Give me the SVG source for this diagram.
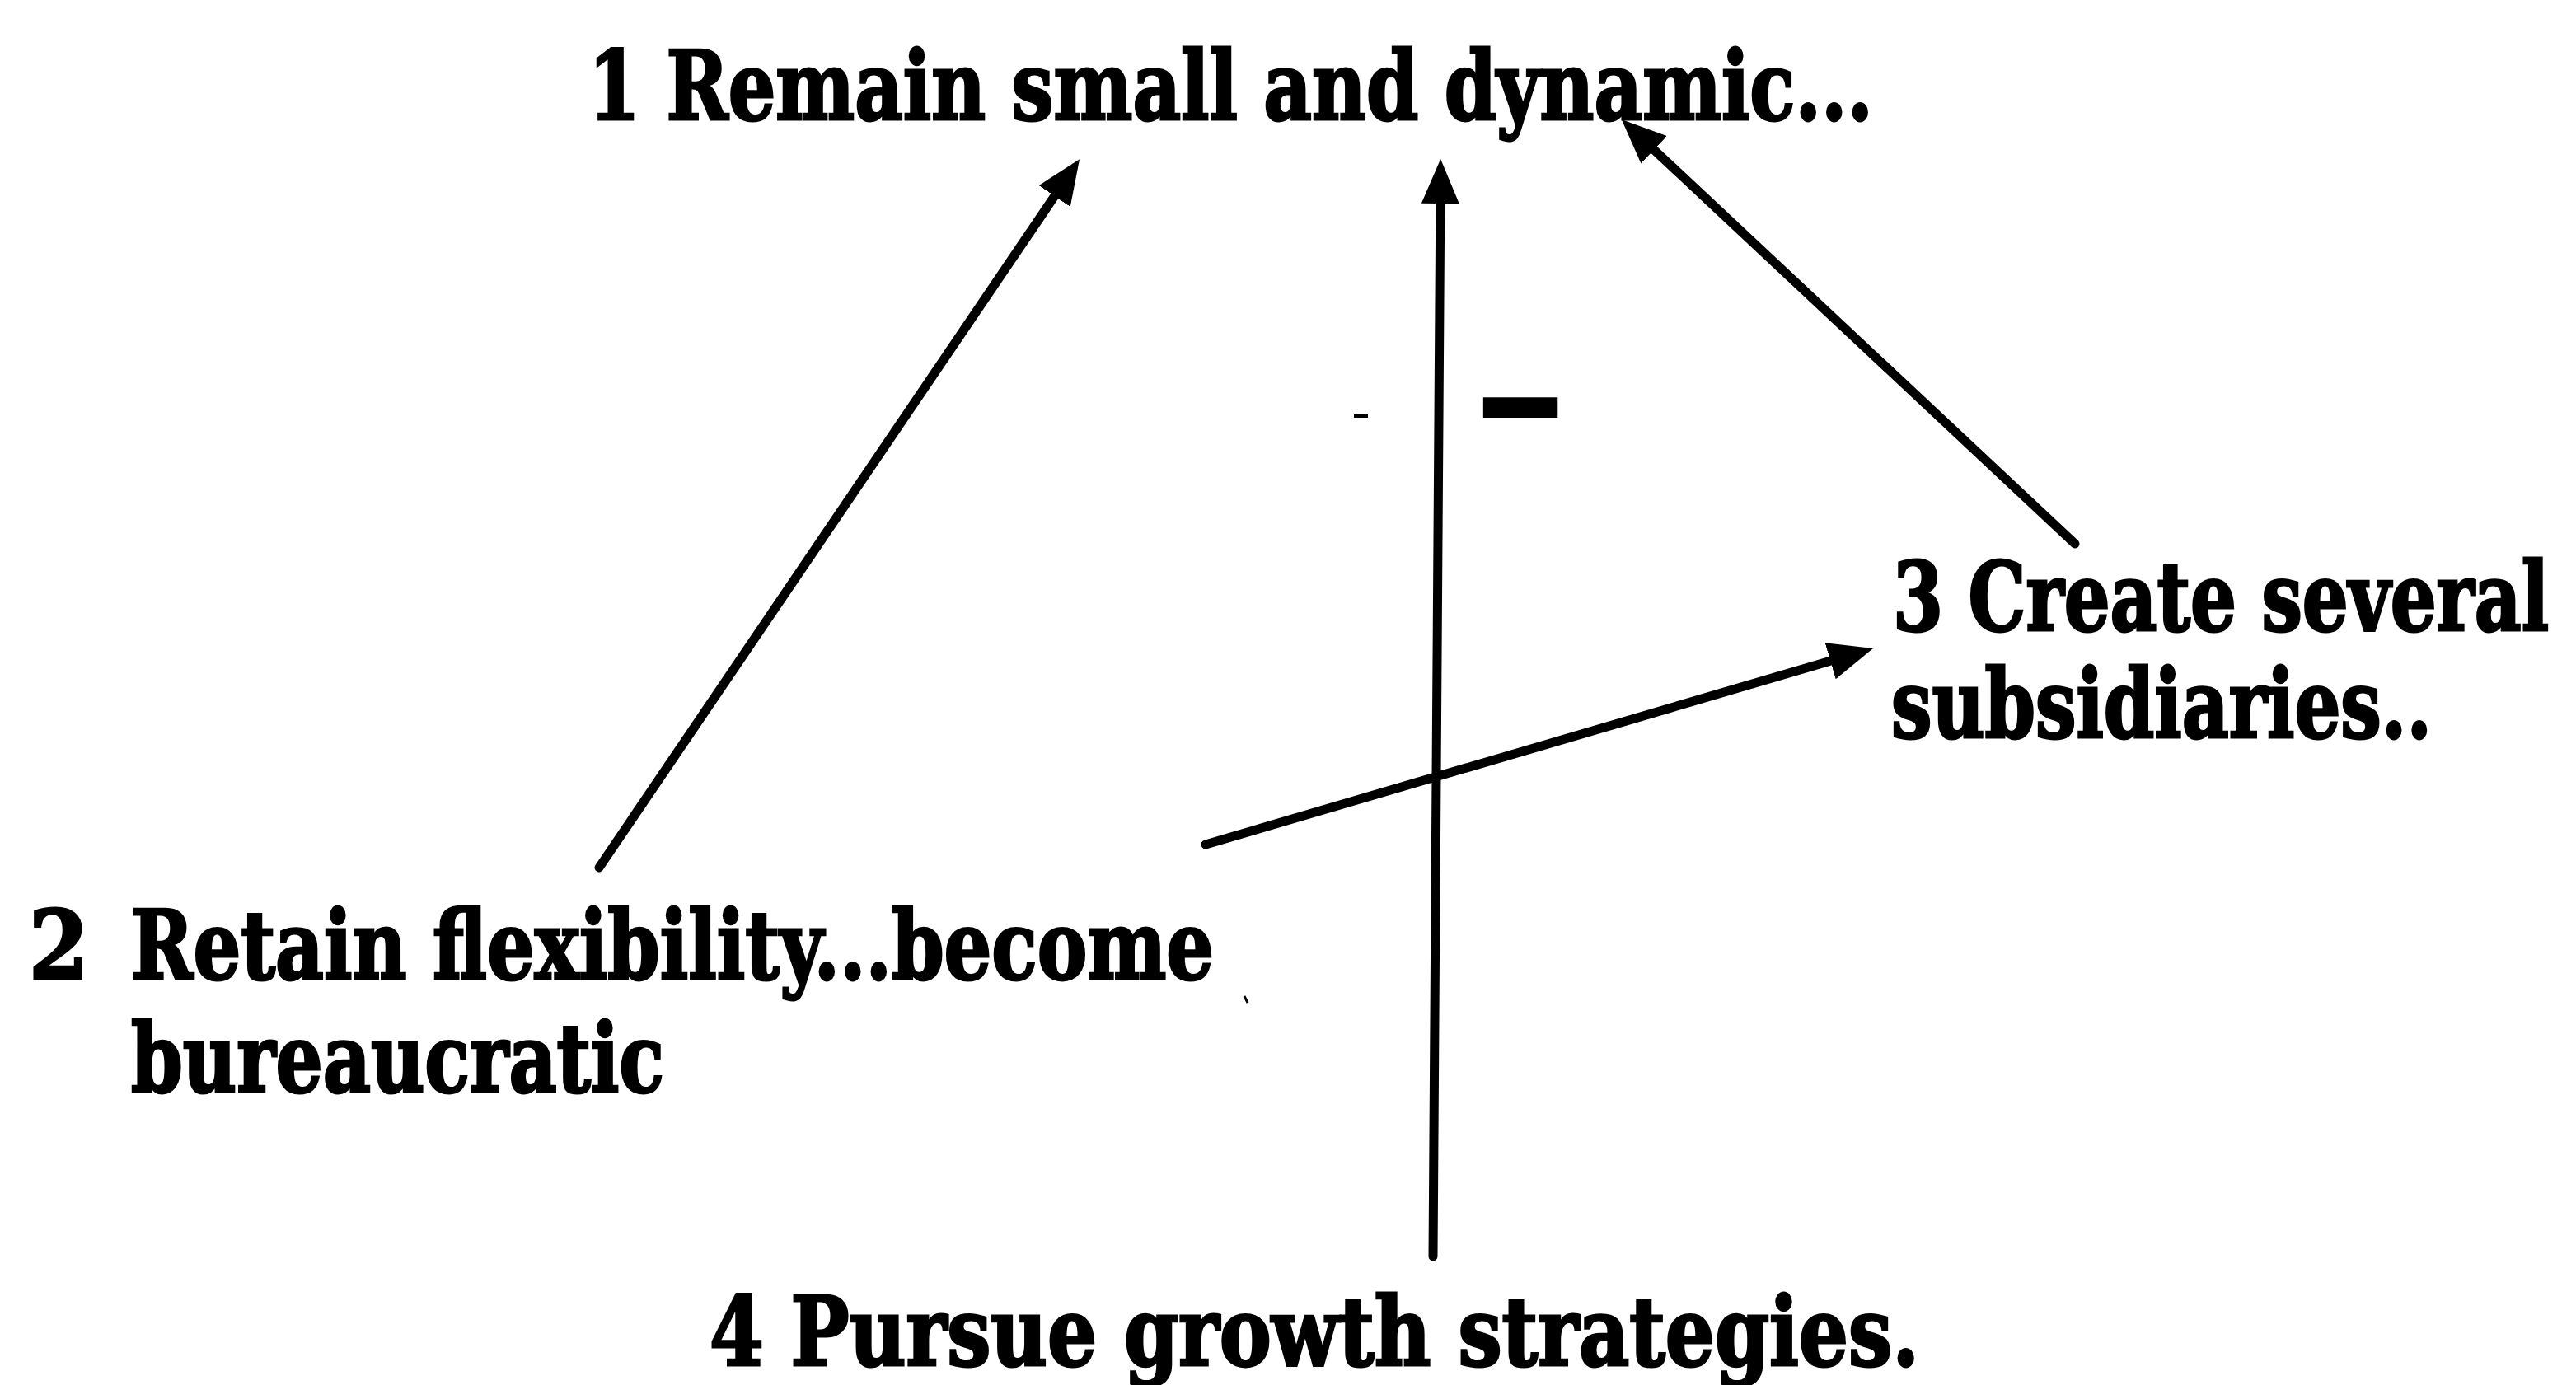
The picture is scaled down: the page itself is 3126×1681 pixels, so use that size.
<svg xmlns="http://www.w3.org/2000/svg" width="3126" height="1681" viewBox="0 0 3126 1681">
<style>
.lbl{font-family:"DejaVu Serif","Liberation Serif",serif;font-weight:bold;font-stretch:condensed;font-size:116px;fill:#000;stroke:#000;stroke-width:3}
.edge{stroke:#000;stroke-width:11;stroke-linecap:round;fill:none}
</style>
<defs>
<marker id="ah" viewBox="0 0 54 46" refX="29" refY="23" markerWidth="54" markerHeight="46" markerUnits="userSpaceOnUse" orient="auto">
<path d="M0,0 L54,23 L0,46 z" fill="#000"/>
</marker>
</defs>
<rect width="3126" height="1681" fill="#fff"/>
<g id="node1">
<text class="lbl" x="714" y="145" textLength="1559" lengthAdjust="spacingAndGlyphs">1 Remain small and dynamic...</text>
</g>
<g id="node2">
<text class="lbl" x="35" y="1188">2</text>
<text class="lbl" x="159" y="1188" textLength="1314" lengthAdjust="spacingAndGlyphs">Retain flexibility...become</text>
<text class="lbl" x="159" y="1325" textLength="647" lengthAdjust="spacingAndGlyphs">bureaucratic</text>
</g>
<g id="node3">
<text class="lbl" x="2297" y="765" textLength="796" lengthAdjust="spacingAndGlyphs">3 Create several</text>
<text class="lbl" x="2295" y="895" textLength="656" lengthAdjust="spacingAndGlyphs">subsidiaries..</text>
</g>
<g id="node4">
<text class="lbl" x="861" y="1657" textLength="1468" lengthAdjust="spacingAndGlyphs">4 Pursue growth strategies.</text>
</g>
<g id="connectors">
<line class="edge" x1="727" y1="1053" x2="1296" y2="214" marker-end="url(#ah)"/>
<line class="edge" x1="1739" y1="1525" x2="1748" y2="218" marker-end="url(#ah)"/>
<line class="edge" x1="2518" y1="660" x2="1986" y2="162" marker-end="url(#ah)"/>
<line class="edge" x1="1463" y1="1025" x2="2249" y2="794" marker-end="url(#ah)"/>
<text class="lbl" x="1793" y="537" textLength="104" lengthAdjust="spacingAndGlyphs" style="font-size:160px;stroke:#000;stroke-width:6">–</text>
</g>
<g id="marks">
<line x1="1643" y1="505" x2="1660" y2="505" stroke="#000" stroke-width="4"/>
<line x1="1510" y1="1209" x2="1514" y2="1217" stroke="#000" stroke-width="3"/>
</g>
</svg>
